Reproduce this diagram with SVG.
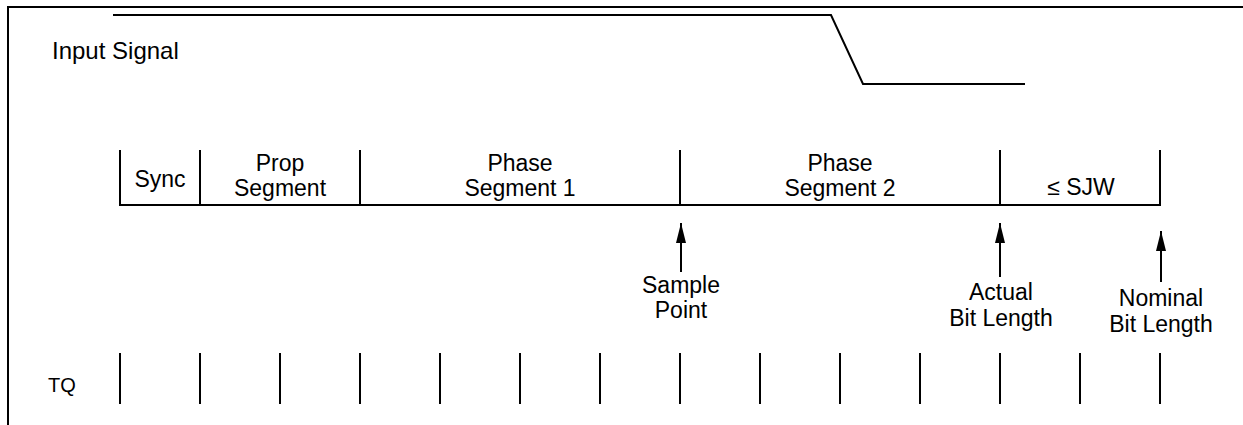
<svg xmlns="http://www.w3.org/2000/svg" width="1243" height="425" viewBox="0 0 1243 425">
<style>
.ln{stroke:#000;stroke-width:2;fill:none}
.tk{stroke:#000;stroke-width:2}
.t{font-family:"Liberation Sans",Arial,sans-serif;font-size:23px;fill:#000}
.c{text-anchor:middle}
</style>
<defs>
<marker id="ah" markerWidth="20" markerHeight="10" refX="20" refY="5" orient="auto" markerUnits="userSpaceOnUse" viewBox="0 0 20 10">
<path d="M0,0 L20,5 L0,10 Z" fill="#000"/>
</marker>
</defs>
<rect width="1243" height="425" fill="#fff"/>
<g id="frame">
<polyline class="ln" points="8,425 8,7 1243,7"/>
</g>
<g id="input-signal">
<text class="t" x="52" y="59" style="font-size:24px">Input Signal</text>
<polyline class="ln" points="113,15 831,15 863,84 1025,84"/>
</g>
<g id="segments">
<polyline class="ln" points="120,150 120,205 1160,205 1160,150"/>
<line class="tk" x1="200" y1="150" x2="200" y2="205"/>
<line class="tk" x1="360" y1="150" x2="360" y2="205"/>
<line class="tk" x1="680" y1="150" x2="680" y2="205"/>
<line class="tk" x1="1000" y1="150" x2="1000" y2="205"/>
</g>
<g id="seg-sync"><text class="t c" x="160" y="187">Sync</text></g>
<g id="seg-prop"><text class="t c" x="280" y="171">Prop</text><text class="t c" x="280" y="196">Segment</text></g>
<g id="seg-phase1"><text class="t c" x="520" y="171">Phase</text><text class="t c" x="520" y="196">Segment 1</text></g>
<g id="seg-phase2"><text class="t c" x="840" y="171">Phase</text><text class="t c" x="840" y="196">Segment 2</text></g>
<g id="seg-sjw"><text class="t c" x="1081" y="195">≤ SJW</text></g>
<g id="connectors">
<line class="tk" x1="681" y1="272" x2="681" y2="223" marker-end="url(#ah)"/>
<line class="tk" x1="1000" y1="277" x2="1000" y2="223" marker-end="url(#ah)"/>
<line class="tk" x1="1161" y1="282" x2="1161" y2="231" marker-end="url(#ah)"/>
</g>
<g id="label-sample"><text class="t c" x="681" y="293">Sample</text><text class="t c" x="681" y="318">Point</text></g>
<g id="label-actual"><text class="t c" x="1001" y="300">Actual</text><text class="t c" x="1001" y="326">Bit Length</text></g>
<g id="label-nominal"><text class="t c" x="1161" y="306">Nominal</text><text class="t c" x="1161" y="332">Bit Length</text></g>
<g id="tq">
<text class="t" x="48" y="392" style="font-size:20px">TQ</text>
<g class="tk">
<line x1="120" y1="353" x2="120" y2="404"/>
<line x1="200" y1="353" x2="200" y2="404"/>
<line x1="280" y1="353" x2="280" y2="404"/>
<line x1="360" y1="353" x2="360" y2="404"/>
<line x1="440" y1="353" x2="440" y2="404"/>
<line x1="520" y1="353" x2="520" y2="404"/>
<line x1="600" y1="353" x2="600" y2="404"/>
<line x1="680" y1="353" x2="680" y2="404"/>
<line x1="760" y1="353" x2="760" y2="404"/>
<line x1="840" y1="353" x2="840" y2="404"/>
<line x1="920" y1="353" x2="920" y2="404"/>
<line x1="1000" y1="353" x2="1000" y2="404"/>
<line x1="1080" y1="353" x2="1080" y2="404"/>
<line x1="1160" y1="353" x2="1160" y2="404"/>
</g>
</g>
</svg>
